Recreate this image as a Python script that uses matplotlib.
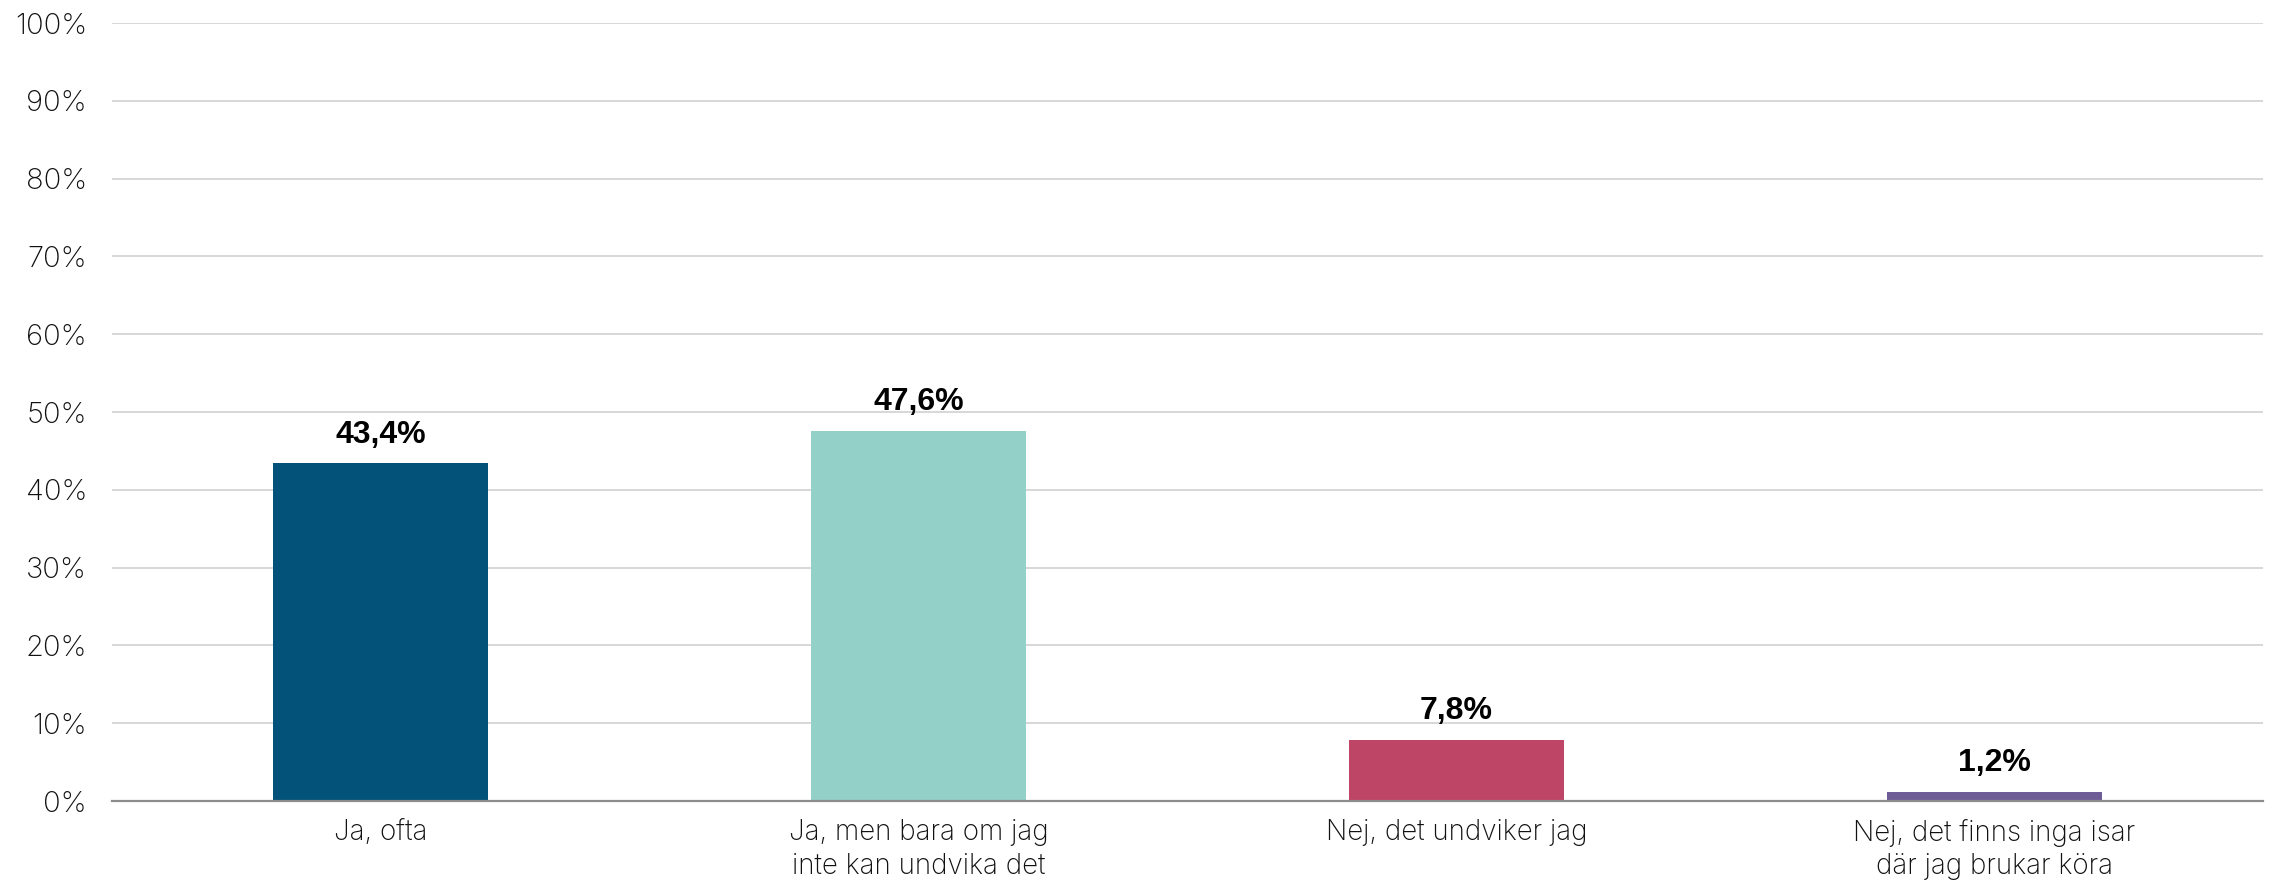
import matplotlib
matplotlib.use('Agg')
import matplotlib.pyplot as plt
from matplotlib.ticker import FuncFormatter

# data
categories = ['Ja, ofta',
              'Ja, men bara om jag\ninte kan undvika det',
              'Nej, det undviker jag',
              'Nej, det finns inga isar\ndär jag brukar köra']
values = [43.4, 47.6, 7.8, 1.2]
colors = ['#03527A', '#93D0C8', '#BE4566', '#6E5C97']

plt.rcParams['font.family'] = ['Inter', 'DejaVu Sans']

fig = plt.figure(figsize=(22.72, 8.90), dpi=100)
ax = fig.add_axes([0.0493, 0.1, 0.9467, 0.874])

x = list(range(len(categories)))
bars = ax.bar(x, values, width=0.4, color=colors, zorder=3)

# value labels above bars
for xi, v in zip(x, values):
    ax.annotate(f'{v:.1f}%'.replace('.', ','), (xi, v), xytext=(0, 10),
                textcoords='offset points', ha='center', va='bottom',
                fontsize=23, fontweight='bold', family=['Liberation Sans'])

ax.set_xlim(-0.5, len(categories) - 0.5)
ax.set_ylim(0, 100)
ax.set_yticks(range(0, 101, 10))
ax.yaxis.set_major_formatter(FuncFormatter(lambda v, p: f'{v:.0f}%'))
ax.set_xticks(x)
ax.set_xticklabels(categories, fontsize=20, fontweight='light', linespacing=1.3)
for lab in ax.get_yticklabels():
    lab.set_fontsize(21)
    lab.set_fontweight('light')

ax.tick_params(axis='y', length=0, pad=18, colors='#111111')
ax.tick_params(axis='x', length=0, pad=13, colors='#111111')
ax.grid(axis='y', color='#d4d4d4', linewidth=1.3, zorder=0)

for side in ['top', 'right', 'left']:
    ax.spines[side].set_visible(False)
ax.spines['bottom'].set_color('#8c8c8c')
ax.spines['bottom'].set_linewidth(1.6)
ax.spines['bottom'].set_zorder(4)

fig.savefig('out.png', dpi=100)
